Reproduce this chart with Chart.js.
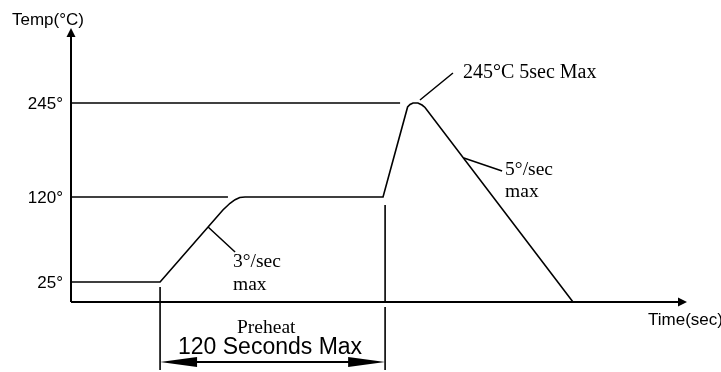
<!DOCTYPE html>
<html>
<head>
<meta charset="utf-8">
<script src="https://cdn.jsdelivr.net/npm/chart.js@4"></script>
<style>
  html, body { margin: 0; padding: 0; background: #fff; }
  #wrap { width: 721px; height: 372px; }
</style>
</head>
<body>
<div id="wrap"><canvas id="reflow" width="721" height="372"></canvas></div>
<script>
// reflow profile, time in seconds, temperature in °C (schematic)
const timeSec = [0, 47.5, 81, 84.8, 87.5, 90, 92.8, 166.4, 179.5, 180.8, 182.4, 185, 187.2, 188.8, 267.7];
const tempC = [25, 25, 105.5, 113, 117, 119.5, 120, 120, 239.7, 243, 245, 245, 242.3, 239, 0];

const tempTicks = [25, 120, 245];
const tickLabels = ["25°", "120°", "245°"];

// reference lines drawn from the axis to these times
const refTemps = [120, 245];
const refEnds = [83.7, 175.5];

const preheatWindow = [47.5, 167.5];

// y scale that is piecewise linear, like the hand drawn diagram
class SchematicScale extends Chart.LinearScale {
  static id = "schematic";
  static defaults = {};
  getPixelForValue(value) {
    const stops = this.options.stops;
    let f = 0;
    for (let i = 1; i < stops.length; i++) {
      const a = stops[i - 1], b = stops[i];
      if (value <= b[0] || i === stops.length - 1) {
        f = a[1] + (value - a[0]) / (b[0] - a[0]) * (b[1] - a[1]);
        break;
      }
    }
    return this.getPixelForDecimal(f);
  }
  getValueForPixel(pixel) {
    const stops = this.options.stops;
    const f = this.getDecimalForPixel(pixel);
    for (let i = 1; i < stops.length; i++) {
      const a = stops[i - 1], b = stops[i];
      if (f <= b[1] || i === stops.length - 1) {
        return a[0] + (f - a[1]) / (b[1] - a[1]) * (b[0] - a[0]);
      }
    }
  }
}
Chart.register(SchematicScale);

const black = "#000";

const profile = timeSec.map((t, i) => ({ x: t, y: tempC[i] }));
const refSets = refTemps.map((t, i) => ({
  data: [{ x: 0, y: t }, { x: refEnds[i], y: t }],
  borderColor: black,
  borderWidth: 1.6,
  pointRadius: 0,
}));

function arrowHead(ctx, x, y, dx, dy, len, half) {
  // dx,dy unit direction of the tip
  ctx.beginPath();
  ctx.moveTo(x, y);
  ctx.lineTo(x - dx * len - dy * half, y - dy * len + dx * half);
  ctx.lineTo(x - dx * len + dy * half, y - dy * len - dx * half);
  ctx.closePath();
  ctx.fill();
}

const diagram = {
  id: "diagram",
  afterDraw(chart) {
    const ctx = chart.ctx;
    const xs = chart.scales.x, ys = chart.scales.y;
    const area = chart.chartArea;
    const px = (v) => xs.getPixelForValue(v);
    const py = (v) => ys.getPixelForValue(v);

    ctx.save();
    ctx.strokeStyle = black;
    ctx.fillStyle = black;

    // axes
    ctx.lineWidth = 2;
    ctx.beginPath();
    ctx.moveTo(area.left, area.bottom);
    ctx.lineTo(area.left, area.top + 6);
    ctx.moveTo(area.left, area.bottom);
    ctx.lineTo(area.right - 6, area.bottom);
    ctx.stroke();
    arrowHead(ctx, area.left, area.top, 0, -1, 9, 4.5);
    arrowHead(ctx, area.right, area.bottom, 1, 0, 9, 4.5);

    // tick labels
    ctx.font = "17px 'Liberation Sans', Arial, sans-serif";
    ctx.textAlign = "right";
    ctx.textBaseline = "middle";
    tempTicks.forEach((t, i) => ctx.fillText(tickLabels[i], area.left - 8, py(t) + 1));

    // axis titles
    ctx.font = "17px 'Liberation Sans', Arial, sans-serif";
    ctx.textAlign = "left";
    ctx.textBaseline = "alphabetic";
    ctx.fillText("Temp(°C)", 12, 25);
    ctx.fillText("Time(sec)", 648, 325);

    // leader lines
    ctx.lineWidth = 1.5;
    const leaders = [
      [73.1, 86.5, 87.5, 58.5],
      [186.1, 248, 203.7, 275],
      [209.5, 171.9, 229.9, 154.6],
    ];
    ctx.beginPath();
    leaders.forEach(([x1, y1, x2, y2]) => {
      ctx.moveTo(px(x1), py(y1));
      ctx.lineTo(px(x2), py(y2));
    });
    ctx.stroke();

    // annotations
    ctx.font = "20px 'Liberation Serif', 'Times New Roman', serif";
    ctx.fillText("245°C 5sec Max", px(209), py(270));
    ctx.font = "19.5px 'Liberation Serif', 'Times New Roman', serif";
    ctx.fillText("5°/sec", px(231.5), py(149.3));
    ctx.fillText("max", px(231.5), py(120));
    ctx.fillText("3°/sec", px(86.4), py(41.8));
    ctx.fillText("max", px(86.4), py(15));

    // preheat dimension
    const x0 = px(preheatWindow[0]), x1 = px(preheatWindow[1]);
    ctx.lineWidth = 1.6;
    ctx.beginPath();
    ctx.moveTo(x0, area.bottom - 15);
    ctx.lineTo(x0, 370);
    ctx.moveTo(x1, py(111));
    ctx.lineTo(x1, area.bottom);
    ctx.moveTo(x1, area.bottom + 5);
    ctx.lineTo(x1, 370);
    ctx.stroke();

    const ay = 362;
    ctx.lineWidth = 2;
    ctx.beginPath();
    ctx.moveTo(x0 + 20, ay);
    ctx.lineTo(x1 - 20, ay);
    ctx.stroke();
    arrowHead(ctx, x0, ay, -1, 0, 37, 5);
    arrowHead(ctx, x1, ay, 1, 0, 37, 5);

    ctx.font = "19.5px 'Liberation Serif', 'Times New Roman', serif";
    ctx.fillText("Preheat", 237, 333);
    ctx.font = "23px 'Liberation Sans', Arial, sans-serif";
    ctx.fillText("120 Seconds Max", 178, 354);

    ctx.restore();
  },
};

new Chart(document.getElementById("reflow"), {
  type: "line",
  data: {
    datasets: [
      {
        data: profile,
        borderColor: black,
        borderWidth: 1.6,
        pointRadius: 0,
        tension: 0,
      },
      ...refSets,
    ],
  },
  options: {
    responsive: false,
    animation: false,
    layout: { padding: { left: 71, right: 34, top: 28, bottom: 70 } },
    plugins: { legend: { display: false }, tooltip: { enabled: false } },
    scales: {
      x: { type: "linear", min: 0, max: 328.5, display: false },
      y: {
        type: "schematic",
        min: 0,
        max: 320,
        display: false,
        stops: [[0, 0], [25, 0.073], [120, 0.3832], [245, 0.7263], [320, 1]],
      },
    },
  },
  plugins: [diagram],
});
</script>
</body>
</html>
